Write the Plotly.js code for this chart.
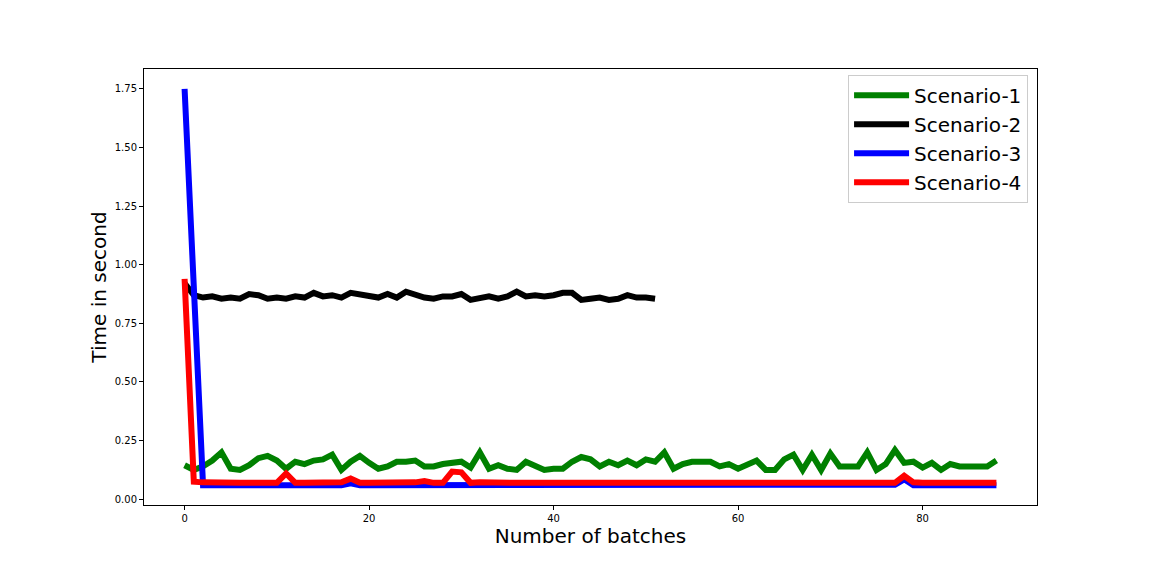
<!DOCTYPE html>
<html>
<head>
<meta charset="utf-8">
<script src="https://cdn.plot.ly/plotly-3.0.1.min.js"></script>
<style>body{margin:0;padding:0;background:#fff;}#chart{width:1152px;height:576px;}</style>
</head>
<body>
<div id="chart"></div>
<script>
const seriesNames = ["Scenario-1", "Scenario-2", "Scenario-3", "Scenario-4"];
const seriesColors = ["green", "black", "blue", "red"];

const scenario1 = [0.145,0.125,0.14,0.165,0.20,0.13,0.125,0.145,0.175,0.185,
  0.165,0.13,0.16,0.15,0.165,0.17,0.19,0.125,0.16,0.185,
  0.155,0.13,0.14,0.16,0.16,0.165,0.14,0.14,0.15,0.155,
  0.16,0.135,0.20,0.13,0.145,0.13,0.125,0.16,0.145,0.125,
  0.13,0.13,0.16,0.18,0.17,0.14,0.16,0.145,0.165,0.145,
  0.17,0.16,0.20,0.13,0.15,0.16,0.16,0.16,0.14,0.15,
  0.13,0.145,0.165,0.125,0.125,0.17,0.19,0.125,0.19,0.125,
  0.195,0.14,0.14,0.14,0.20,0.125,0.15,0.21,0.155,0.16,
  0.135,0.155,0.125,0.15,0.14,0.14,0.145,0.14,0.165];

const scenario2 = [0.92,0.87,0.86,0.865,0.855,0.86,0.855,0.875,0.87,0.855,
  0.86,0.855,0.865,0.86,0.88,0.865,0.87,0.86,0.88,0.875,
  0.87,0.86,0.875,0.86,0.885,0.87,0.86,0.855,0.865,0.865,
  0.875,0.85,0.855,0.865,0.855,0.865,0.885,0.865,0.87,0.865,
  0.87,0.88,0.88,0.85,0.855,0.86,0.85,0.855,0.87,0.86,
  0.86,0.855];

const scenario3 = [1.75,0.90,0.06,0.06,0.06,0.062,0.06,0.06,0.06,0.06,
  0.06,0.065,0.06,0.06,0.06,0.06,0.06,0.06,0.068,0.06,
  0.06,0.06,0.06,0.06,0.06,0.062,0.065,0.062,0.06,0.065,
  0.065,0.062,0.062,0.06,0.06,0.06,0.06,0.06,0.06,0.06,
  0.06,0.06,0.06,0.06,0.06,0.06,0.06,0.06,0.062,0.06,
  0.06,0.06,0.06,0.06,0.06,0.06,0.06,0.06,0.06,0.06,
  0.06,0.06,0.06,0.06,0.06,0.06,0.06,0.06,0.06,0.06,
  0.06,0.06,0.06,0.06,0.06,0.06,0.06,0.062,0.085,0.06,
  0.06,0.062,0.06,0.06,0.06,0.06,0.06,0.06,0.06];

const scenario4 = [0.94,0.075,0.072,0.07,0.07,0.072,0.07,0.07,0.07,0.07,
  0.07,0.11,0.07,0.07,0.07,0.07,0.07,0.072,0.088,0.07,
  0.07,0.07,0.07,0.07,0.07,0.072,0.078,0.07,0.07,0.118,
  0.115,0.07,0.072,0.07,0.07,0.07,0.07,0.07,0.07,0.07,
  0.07,0.072,0.07,0.07,0.07,0.07,0.07,0.07,0.07,0.07,
  0.07,0.07,0.072,0.07,0.07,0.07,0.07,0.07,0.07,0.07,
  0.07,0.07,0.07,0.07,0.07,0.07,0.07,0.07,0.07,0.07,
  0.07,0.07,0.07,0.07,0.07,0.07,0.07,0.07,0.10,0.072,
  0.07,0.072,0.07,0.07,0.07,0.07,0.07,0.07,0.07];

const xTickVals = [0, 20, 40, 60, 80];
const yTickVals = [0, 0.25, 0.5, 0.75, 1.0, 1.25, 1.5, 1.75];
const yTickText = ["0.00","0.25","0.50","0.75","1.00","1.25","1.50","1.75"];

const allSeries = [scenario1, scenario2, scenario3, scenario4];
const traces = allSeries.map((ys, i) => ({
  type: "scatter",
  mode: "lines",
  name: seriesNames[i],
  x: ys.map((_, k) => k),
  y: ys,
  line: {color: seriesColors[i], width: 6},
  hoverinfo: "skip"
}));

const font = "DejaVu Sans, sans-serif";
const layout = {
  width: 1152, height: 576,
  margin: {l: 144, r: 115, t: 69, b: 71, pad: 0},
  paper_bgcolor: "#fff", plot_bgcolor: "#fff",
  font: {family: font, color: "#000", size: 10},
  showlegend: true,
  legend: {
    x: 0.99, y: 0.987, xanchor: "right", yanchor: "top",
    font: {family: font, size: 20, color: "#000"},
    bordercolor: "#cccccc", borderwidth: 1, bgcolor: "rgba(255,255,255,0.8)",
    tracegroupgap: 0, itemwidth: 55
  },
  xaxis: {
    range: [-4.4, 92.4],
    tickvals: xTickVals,
    ticks: "outside", ticklen: 4, tickwidth: 1, tickcolor: "#000",
    showgrid: false, zeroline: false,
    showline: true, linecolor: "#000", linewidth: 1, mirror: true,
    tickfont: {family: font, size: 10, color: "#000"},
    title: {text: "Number of batches", font: {family: font, size: 20, color: "#000"}, standoff: 3}
  },
  yaxis: {
    range: [-0.0245, 1.8345],
    tickvals: yTickVals, ticktext: yTickText,
    ticks: "outside", ticklen: 4, tickwidth: 1, tickcolor: "#000",
    showgrid: false, zeroline: false,
    showline: true, linecolor: "#000", linewidth: 1, mirror: true,
    tickfont: {family: font, size: 10, color: "#000"},
    title: {text: "Time in second", font: {family: font, size: 20, color: "#000"}, standoff: 2}
  }
};

Plotly.newPlot("chart", traces, layout, {displayModeBar: false, staticPlot: true});
</script>
</body>
</html>
